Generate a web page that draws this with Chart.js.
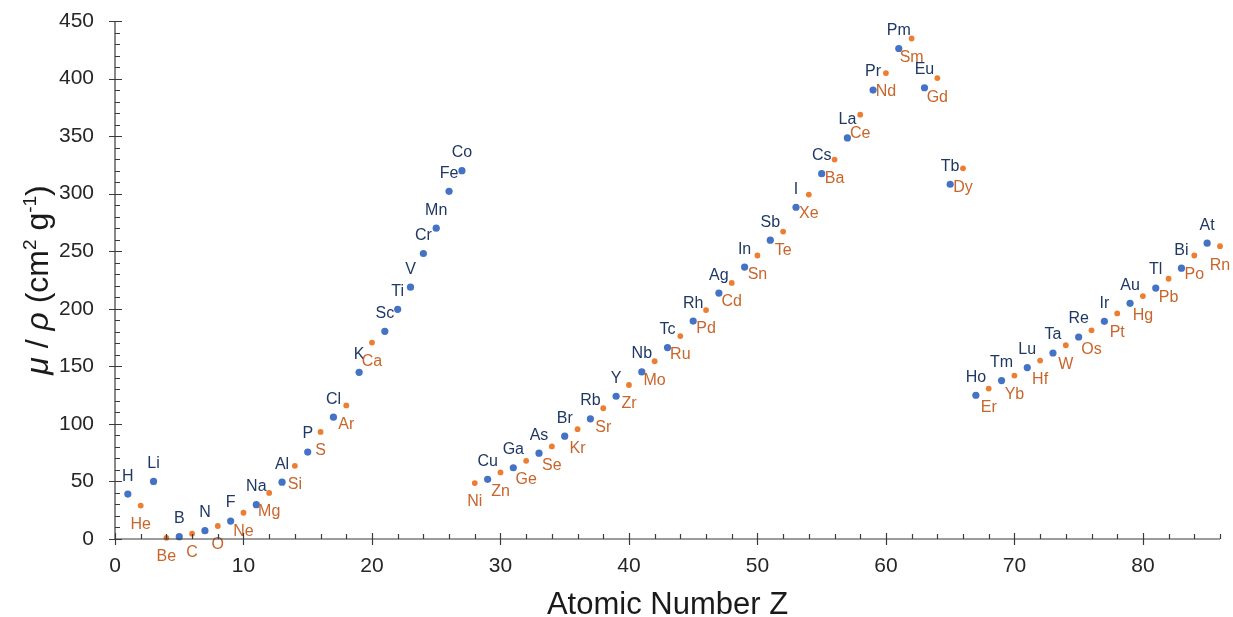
<!DOCTYPE html>
<html>
<head>
<meta charset="utf-8">
<script src="https://cdn.jsdelivr.net/npm/chart.js@4.4.1/dist/chart.umd.min.js"></script>
<style>
  html, body { margin: 0; padding: 0; background: #fff; }
</style>
</head>
<body>
<canvas id="chart" width="1233" height="617"></canvas>
<script>
// odd-Z style series (blue) and even-Z style series (orange)
const blueZ = [1, 3, 5, 7, 9, 11, 13, 15, 17, 19, 21, 22, 23, 24, 25, 26, 27,
  29, 31, 33, 35, 37, 39, 41, 43, 45, 47, 49, 51, 53, 55, 57, 59, 61, 63, 65,
  67, 69, 71, 73, 75, 77, 79, 81, 83, 85];
const blueSymbols = ['H', 'Li', 'B', 'N', 'F', 'Na', 'Al', 'P', 'Cl', 'K', 'Sc', 'Ti', 'V', 'Cr', 'Mn', 'Fe', 'Co',
  'Cu', 'Ga', 'As', 'Br', 'Rb', 'Y', 'Nb', 'Tc', 'Rh', 'Ag', 'In', 'Sb', 'I', 'Cs', 'La', 'Pr', 'Pm', 'Eu', 'Tb',
  'Ho', 'Tm', 'Lu', 'Ta', 'Re', 'Ir', 'Au', 'Tl', 'Bi', 'At'];
const blueMu = [39, 50, 2, 7.2, 15.6, 29.8, 49.4, 75.5, 105.8, 144.8, 180.4, 199.5, 218.8, 248, 270, 302, 320,
  51.8, 61.9, 74.6, 89.3, 104.4, 124, 145.1, 166.3, 189.3, 213.6, 236.2, 259.6, 288.2, 317.4, 348.4, 390, 426.1, 392, 308.2,
  124.9, 137.6, 148.9, 161.6, 175.5, 189.1, 204.7, 218, 235.3, 257];

const orangeZ = [2, 4, 6, 8, 10, 12, 14, 16, 18, 20,
  28, 30, 32, 34, 36, 38, 40, 42, 44, 46, 48, 50, 52, 54, 56, 58, 60, 62, 64, 66,
  68, 70, 72, 74, 76, 78, 80, 82, 84, 86];
const orangeSymbols = ['He', 'Be', 'C', 'O', 'Ne', 'Mg', 'Si', 'S', 'Ar', 'Ca',
  'Ni', 'Zn', 'Ge', 'Se', 'Kr', 'Sr', 'Zr', 'Mo', 'Ru', 'Pd', 'Cd', 'Sn', 'Te', 'Xe', 'Ba', 'Ce', 'Nd', 'Sm', 'Gd', 'Dy',
  'Er', 'Yb', 'Hf', 'W', 'Os', 'Pt', 'Hg', 'Pb', 'Po', 'Rn'];
const orangeMu = [29, 1, 4.6, 11.3, 22.8, 40, 63.6, 93, 116, 170.6,
  48.6, 57.8, 67.9, 80.4, 95.4, 113.6, 133.8, 154.4, 176.3, 198.9, 222.5, 246.3, 267.1, 299.2, 329.6, 368.6, 404.8, 434.8, 400.4, 322,
  130.7, 142, 155, 168.3, 181.3, 196, 211, 226.1, 246.3, 254.4];

const xTitle = 'Atomic Number Z';
// y title pieces: [text, italic, superscript]
const yTitleParts = [['μ', true, false], [' / ', false, false], ['ρ', true, false],
  [' (cm', false, false], ['2', false, true], [' g', false, false], ['-1', false, true], [')', false, false]];

const FONT = "'Liberation Sans', Arial, sans-serif";

function toPoints(zs, mus) {
  return zs.map((z, i) => ({ x: z, y: mus[i] }));
}

// element symbols next to each point
const symbolLabels = {
  id: 'symbolLabels',
  afterDatasetsDraw(chart) {
    const ctx = chart.ctx;
    ctx.save();
    ctx.font = '16px ' + FONT;
    ctx.textAlign = 'center';
    ctx.textBaseline = 'middle';
    chart.data.datasets.forEach((ds, di) => {
      const meta = chart.getDatasetMeta(di);
      ctx.fillStyle = ds.labelColor;
      meta.data.forEach((pt, i) => {
        ctx.fillText(ds.symbols[i], pt.x, pt.y + ds.labelDy);
      });
    });
    ctx.restore();
  }
};

// axis lines, crossing major ticks, inner minor ticks and axis titles
const axisDecor = {
  id: 'axisDecor',
  afterDraw(chart) {
    const ctx = chart.ctx, a = chart.chartArea;
    const xs = chart.scales.x, ys = chart.scales.y;
    ctx.save();
    ctx.strokeStyle = '#3a3a3a';
    ctx.lineWidth = 1.2;
    ctx.beginPath();
    ctx.moveTo(a.left, a.top);
    ctx.lineTo(a.left, a.bottom);
    ctx.lineTo(a.right, a.bottom);
    ys.ticks.forEach(t => {
      const y = Math.round(ys.getPixelForValue(t.value)) + 0.5;
      ctx.moveTo(a.left - 6, y); ctx.lineTo(a.left + 7, y);
    });
    for (let v = ys.min; v <= ys.max; v += 10) {
      const y = Math.round(ys.getPixelForValue(v)) + 0.5;
      ctx.moveTo(a.left, y); ctx.lineTo(a.left + 5, y);
    }
    xs.ticks.forEach(t => {
      const x = Math.round(xs.getPixelForValue(t.value)) + 0.5;
      ctx.moveTo(x, a.bottom - 6); ctx.lineTo(x, a.bottom + 6);
    });
    for (let v = xs.min; v <= xs.max; v += 2) {
      const x = Math.round(xs.getPixelForValue(v)) + 0.5;
      ctx.moveTo(x, a.bottom); ctx.lineTo(x, a.bottom - 5);
    }
    ctx.stroke();

    // x title
    ctx.fillStyle = '#1a1a1a';
    ctx.font = '31px ' + FONT;
    ctx.textAlign = 'center';
    ctx.textBaseline = 'alphabetic';
    ctx.fillText(xTitle, (a.left + a.right) / 2, 614);

    // y title, rotated
    const size = 32, supSize = 19;
    const fontOf = p => (p[1] ? 'italic ' : '') + (p[2] ? supSize : size) + 'px ' + FONT;
    let total = 0;
    yTitleParts.forEach(p => { ctx.font = fontOf(p); total += ctx.measureText(p[0]).width; });
    ctx.translate(48, (a.top + a.bottom) / 2);
    ctx.rotate(-Math.PI / 2);
    ctx.textAlign = 'left';
    let x = -total / 2;
    yTitleParts.forEach(p => {
      ctx.font = fontOf(p);
      ctx.fillText(p[0], x, p[2] ? -12 : 0);
      x += ctx.measureText(p[0]).width;
    });
    ctx.restore();
  }
};

new Chart(document.getElementById('chart'), {
  type: 'scatter',
  data: {
    datasets: [{
      label: 'odd',
      data: toPoints(blueZ, blueMu),
      symbols: blueSymbols,
      labelColor: '#1f3864',
      labelDy: -18,
      backgroundColor: '#4472c4',
      borderWidth: 0,
      pointRadius: 3.6,
      clip: false
    }, {
      label: 'even',
      data: toPoints(orangeZ, orangeMu),
      symbols: orangeSymbols,
      labelColor: '#c8652b',
      labelDy: 19,
      backgroundColor: '#ed7d31',
      borderWidth: 0,
      pointRadius: 2.9,
      clip: false
    }]
  },
  options: {
    responsive: false,
    animation: false,
    layout: { padding: { top: 21, right: 13, left: 0, bottom: 0 } },
    plugins: { legend: { display: false }, tooltip: { enabled: false } },
    scales: {
      x: {
        type: 'linear',
        min: 0, max: 86,
        grid: { display: false, drawTicks: false },
        border: { display: false },
        ticks: { stepSize: 10, includeBounds: false, padding: 15, color: '#262626', font: { size: 21, family: FONT } },
        afterFit(scale) { scale.height = 78; scale.paddingLeft = 0; scale.paddingRight = 0; }
      },
      y: {
        min: 0, max: 450,
        grid: { display: false, drawTicks: false },
        border: { display: false },
        ticks: { stepSize: 50, padding: 21, color: '#262626', font: { size: 21, family: FONT } },
        afterFit(scale) { scale.width = 115; scale.paddingTop = 0; scale.paddingBottom = 0; }
      }
    }
  },
  plugins: [symbolLabels, axisDecor]
});
</script>
</body>
</html>
